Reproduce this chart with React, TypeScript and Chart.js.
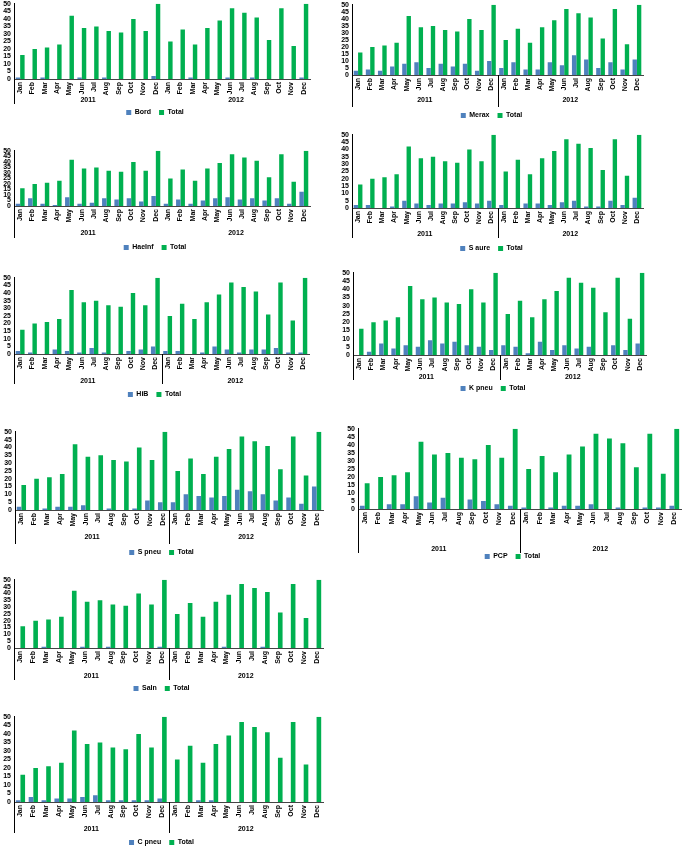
import React, { useEffect, useRef } from 'react';
import { Chart, registerables } from 'chart.js';

Chart.register(...registerables);

const months = ['Jan', 'Feb', 'Mar', 'Apr', 'May', 'Jun', 'Jul', 'Aug', 'Sep', 'Oct', 'Nov', 'Dec'];
const years = ['2011', '2012'];
const categories = years.flatMap(() => months);
const yTicks = [0, 5, 10, 15, 20, 25, 30, 35, 40, 45, 50];

const total = [16, 20, 21, 23, 42, 34, 35, 32, 31, 40, 32, 50, 25, 33, 23, 34, 39, 47, 44, 41, 26, 47, 22, 50];
const bord = [1, 0, 1, 0, 0, 1, 0, 1, 0, 0, 0, 2, 0, 0, 1, 0, 0, 1, 0, 1, 0, 0, 0, 1];
const merax = [3, 4, 3, 6, 8, 9, 5, 8, 6, 8, 3, 10, 5, 9, 4, 4, 9, 7, 14, 11, 5, 9, 4, 11];
const haeinf = [2, 7, 2, 1, 8, 2, 3, 7, 6, 7, 4, 9, 2, 6, 2, 5, 7, 8, 6, 7, 5, 7, 2, 13];
const saure = [2, 2, 0, 1, 5, 3, 2, 3, 3, 4, 3, 5, 2, 0, 3, 3, 2, 4, 5, 1, 1, 5, 2, 7];
const hib = [2, 1, 0, 3, 2, 1, 4, 1, 0, 2, 3, 5, 2, 2, 0, 1, 5, 3, 1, 3, 3, 4, 1, 1];
const kpneu = [0, 2, 7, 4, 6, 5, 9, 7, 8, 6, 5, 3, 6, 5, 1, 8, 3, 6, 4, 5, 0, 6, 3, 7];
const spneu = [2, 0, 1, 2, 2, 3, 0, 1, 0, 1, 6, 5, 5, 10, 9, 8, 9, 13, 12, 10, 6, 8, 4, 15];
const pcp = [2, 0, 3, 3, 8, 4, 7, 0, 6, 5, 3, 2, 1, 0, 1, 2, 2, 3, 0, 1, 0, 1, 1, 2];
const saln = [0, 0, 1, 0, 0, 1, 0, 1, 0, 0, 0, 1, 0, 0, 0, 0, 1, 0, 0, 1, 0, 0, 0, 0];
const cpneu = [1, 3, 1, 2, 2, 3, 4, 1, 1, 1, 1, 2, 0, 0, 1, 1, 0, 0, 0, 0, 0, 0, 0, 0];

const BLUE = '#4f81bd';
const GREEN = '#00b050';
const FONT = "'Liberation Sans', Arial, sans-serif";
const LEG_PAD = 8;
const LEG_H = 7 + LEG_PAD + 10;

type Spec = {
  name: string;
  values: number[];
  left: number;
  width: number;
  chartTop: number;
  zero: number;
  plotLeft: number;
  plotRight: number;
  yearY: number;
  lineEnd: number;
  legendY: number;
  mid: boolean;
};

const panels: Spec[] = [
  { name: 'Bord', values: bord, left: 0, width: 340, chartTop: 3, zero: 79, plotLeft: 14, plotRight: 310, yearY: 100, lineEnd: 104, legendY: 112, mid: false },
  { name: 'Merax', values: merax, left: 340, width: 345, chartTop: 4, zero: 75, plotLeft: 352, plotRight: 643, yearY: 100, lineEnd: 107, legendY: 115, mid: true },
  { name: 'HaeInf', values: haeinf, left: 0, width: 340, chartTop: 150, zero: 206, plotLeft: 14, plotRight: 310, yearY: 233, lineEnd: 238, legendY: 247, mid: false },
  { name: 'S aure', values: saure, left: 340, width: 345, chartTop: 134, zero: 208, plotLeft: 352, plotRight: 643, yearY: 234, lineEnd: 238, legendY: 248, mid: true },
  { name: 'HiB', values: hib, left: 0, width: 340, chartTop: 277, zero: 354, plotLeft: 14, plotRight: 309, yearY: 381, lineEnd: 384, legendY: 394, mid: true },
  { name: 'K pneu', values: kpneu, left: 340, width: 345, chartTop: 272, zero: 355, plotLeft: 353, plotRight: 646, yearY: 377, lineEnd: 380, legendY: 388, mid: true },
  { name: 'S pneu', values: spneu, left: 0, width: 340, chartTop: 431, zero: 510, plotLeft: 15, plotRight: 323, yearY: 537, lineEnd: 544, legendY: 552, mid: true },
  { name: 'PCP', values: pcp, left: 340, width: 345, chartTop: 428, zero: 509, plotLeft: 358, plotRight: 685, yearY: 549, lineEnd: 553, legendY: 556, mid: true },
  { name: 'Saln', values: saln, left: 0, width: 340, chartTop: 579, zero: 648, plotLeft: 14, plotRight: 323, yearY: 676, lineEnd: 680, legendY: 688, mid: true },
  { name: 'C pneu', values: cpneu, left: 0, width: 340, chartTop: 716, zero: 802, plotLeft: 14, plotRight: 323, yearY: 829, lineEnd: 833, legendY: 842, mid: true },
];

const yearPlugin = {
  id: 'yearGroups',
  afterDraw(chart: any, _args: any, opts: any) {
    const { ctx, chartArea, scales } = chart;
    const x = scales.x;
    const n = months.length;
    const left = chartArea.left;
    const right = chartArea.right;
    const bottom = chartArea.bottom;
    const mid = (x.getPixelForValue(n - 1) + x.getPixelForValue(n)) / 2;
    ctx.save();
    ctx.strokeStyle = '#000';
    ctx.lineWidth = 1;
    ctx.beginPath();
    ctx.moveTo(Math.round(left) + 0.5, bottom);
    ctx.lineTo(Math.round(left) + 0.5, opts.lineEnd);
    if (opts.mid) {
      ctx.moveTo(Math.round(mid) + 0.5, bottom);
      ctx.lineTo(Math.round(mid) + 0.5, opts.lineEnd);
    }
    ctx.stroke();
    ctx.fillStyle = '#000';
    ctx.font = `bold 7px ${FONT}`;
    ctx.textAlign = 'center';
    ctx.textBaseline = 'middle';
    ctx.fillText(years[0], (left + mid) / 2, opts.yearY);
    ctx.fillText(years[1], (mid + right) / 2, opts.yearY);
    ctx.restore();
  },
};

function Panel({ spec }: { spec: Spec }) {
  const ref = useRef<HTMLCanvasElement>(null);
  const padTop = 6;
  const canvasTop = spec.chartTop - padTop;
  const canvasH = Math.round(spec.legendY + 13.5 - canvasTop);
  const xH = canvasH - padTop - (spec.zero - spec.chartTop) - LEG_H;
  const yW = spec.plotLeft - spec.left;
  const padRight = spec.left + spec.width - spec.plotRight;

  useEffect(() => {
    if (!ref.current) return;
    const tickFont = { family: FONT, size: 7, weight: 'bold' as const, lineHeight: 1.1 };
    const chart = new Chart(ref.current, {
      type: 'bar',
      data: {
        labels: categories,
        datasets: [
          { label: spec.name, data: spec.values, backgroundColor: BLUE, borderWidth: 0 },
          { label: 'Total', data: total, backgroundColor: GREEN, borderWidth: 0 },
        ],
      },
      options: {
        responsive: false,
        animation: false,
        categoryPercentage: 0.72,
        barPercentage: 1,
        layout: { padding: { top: padTop, right: padRight, left: 0, bottom: 0 } },
        plugins: {
          legend: {
            position: 'bottom',
            labels: { boxWidth: 5, boxHeight: 5, padding: LEG_PAD, color: '#000', font: { family: FONT, size: 7, weight: 'bold' } },
          },
          tooltip: { enabled: false },
          yearGroups: { yearY: spec.yearY - canvasTop, lineEnd: spec.lineEnd - canvasTop, mid: spec.mid },
        } as any,
        scales: {
          x: {
            grid: { display: false, drawTicks: false },
            border: { display: true, color: '#444', width: 1 },
            ticks: { minRotation: 90, maxRotation: 90, autoSkip: false, padding: 3, color: '#000', font: tickFont },
            afterFit: (s: any) => { s.height = xH; },
          },
          y: {
            min: 0,
            max: 50,
            grid: { display: false, drawTicks: false },
            border: { display: true, color: '#000', width: 1 },
            ticks: { autoSkip: false, padding: 3, color: '#000', font: tickFont },
            afterBuildTicks: (s: any) => { s.ticks = yTicks.map((v) => ({ value: v })); },
            afterFit: (s: any) => { s.width = yW; },
          },
        },
      },
      plugins: [yearPlugin as any],
    });
    return () => chart.destroy();
  }, []);

  return (
    <canvas
      ref={ref}
      width={spec.width}
      height={canvasH}
      style={{ position: 'absolute', left: spec.left, top: canvasTop, width: spec.width, height: canvasH }}
    />
  );
}

export default function App() {
  return (
    <div style={{ position: 'absolute', left: 0, top: 0, width: 685, height: 848, background: '#fff', overflow: 'hidden' }}>
      {panels.map((p) => (
        <Panel key={p.name} spec={p} />
      ))}
    </div>
  );
}
